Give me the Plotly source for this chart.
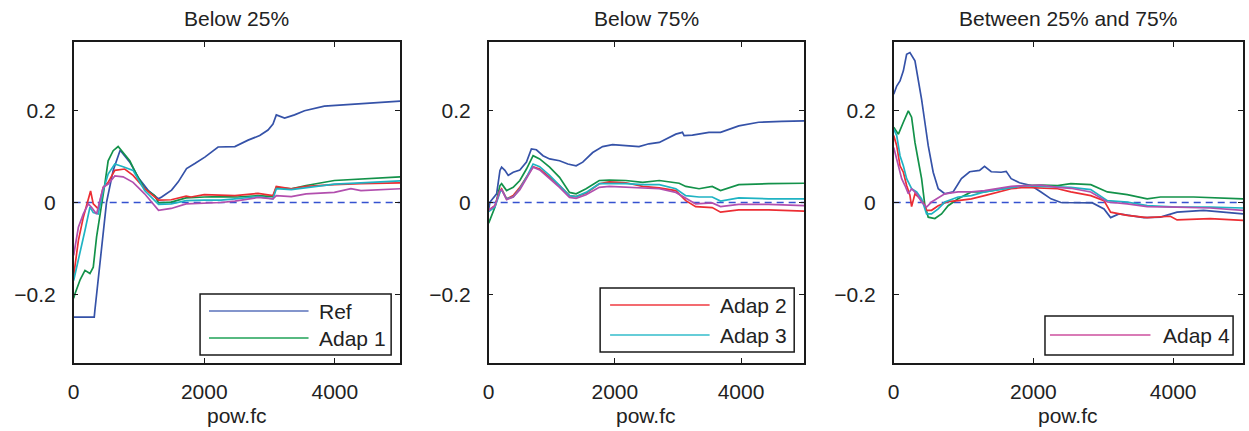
import plotly.graph_objects as go

# ---------------- data ----------------
TITLES = ["Below 25%", "Below 75%", "Between 25% and 75%"]
X_TICKS = [0, 2000, 4000]
X_TICK_LABELS = ["0", "2000", "4000"]
Y_TICKS = [-0.2, 0, 0.2]
Y_TICK_LABELS = ["\u22120.2", "0", "0.2"]
X_LABEL = "pow.fc"
SERIES_NAMES = ["Ref", "Adap 1", "Adap 2", "Adap 3", "Adap 4"]

# Panel 1 : Below 25%
P1_REF_X = [0, 315, 325, 432, 503, 605, 712, 860, 1000, 1150, 1300, 1348, 1500, 1602, 1729, 1856, 2009, 2212, 2469, 2672, 2850, 2977, 3053, 3104, 3231, 3383, 3536, 3840, 4196, 4603, 5000]
P1_REF_Y = [-0.25, -0.25, -0.235, -0.094, 0.0, 0.070, 0.114, 0.088, 0.052, 0.025, 0.008, 0.012, 0.027, 0.045, 0.074, 0.085, 0.099, 0.121, 0.122, 0.136, 0.146, 0.158, 0.171, 0.191, 0.184, 0.191, 0.200, 0.210, 0.213, 0.218, 0.221]
P1_A1_X = [0, 20, 100, 173, 249, 300, 351, 427, 478, 528, 605, 681, 732, 859, 960, 1087, 1240, 1300, 1494, 1646, 1722, 2001, 2255, 2510, 2824, 3053, 3104, 3333, 3561, 3993, 4400, 5000]
P1_A1_Y = [-0.209, -0.199, -0.168, -0.148, -0.155, -0.141, -0.075, -0.010, 0.041, 0.091, 0.113, 0.122, 0.113, 0.091, 0.062, 0.030, 0.015, -0.001, 0.001, 0.006, 0.010, 0.012, 0.013, 0.012, 0.015, 0.013, 0.033, 0.030, 0.037, 0.048, 0.051, 0.056]
P1_A2_X = [0, 72, 148, 224, 259, 300, 376, 452, 528, 630, 782, 910, 1087, 1300, 1494, 1722, 1798, 2001, 2255, 2469, 2824, 3053, 3104, 3333, 3561, 3993, 4400, 5000]
P1_A2_Y = [-0.160, -0.083, -0.032, 0.004, 0.025, -0.003, -0.014, 0.033, 0.044, 0.070, 0.073, 0.059, 0.030, 0.005, 0.006, 0.014, 0.012, 0.017, 0.016, 0.015, 0.020, 0.015, 0.035, 0.030, 0.035, 0.039, 0.041, 0.043]
P1_A3_X = [0, 96, 173, 249, 300, 376, 452, 528, 630, 757, 910, 1087, 1300, 1494, 1722, 2001, 2255, 2469, 2824, 3053, 3104, 3333, 3561, 3993, 4400, 5000]
P1_A3_Y = [-0.170, -0.112, -0.061, -0.010, -0.022, -0.025, 0.026, 0.062, 0.084, 0.078, 0.070, 0.026, -0.004, -0.003, 0.004, 0.005, 0.005, 0.008, 0.013, 0.008, 0.030, 0.028, 0.032, 0.040, 0.043, 0.047]
P1_A4_X = [0, 72, 148, 224, 270, 351, 452, 528, 630, 757, 910, 1087, 1300, 1494, 1722, 2001, 2255, 2469, 2824, 3053, 3104, 3333, 3561, 3993, 4247, 4400, 5000]
P1_A4_Y = [-0.115, -0.054, -0.025, -0.003, -0.010, -0.025, 0.033, 0.040, 0.058, 0.056, 0.044, 0.019, -0.017, -0.013, -0.003, -0.002, 0.000, 0.003, 0.011, 0.008, 0.015, 0.013, 0.019, 0.022, 0.030, 0.026, 0.030]

# Panel 2 : Below 75%
P2_REF_X = [0, 21, 126, 179, 205, 257, 310, 389, 494, 599, 677, 756, 861, 966, 1123, 1255, 1386, 1491, 1649, 1806, 1964, 2174, 2383, 2540, 2704, 2966, 3071, 3097, 3229, 3491, 3675, 3964, 4279, 4646, 5000]
P2_REF_Y = [-0.015, 0.001, 0.019, 0.070, 0.077, 0.070, 0.059, 0.066, 0.071, 0.088, 0.117, 0.115, 0.102, 0.095, 0.091, 0.084, 0.080, 0.088, 0.109, 0.122, 0.126, 0.124, 0.122, 0.128, 0.131, 0.149, 0.153, 0.146, 0.147, 0.153, 0.153, 0.167, 0.175, 0.177, 0.178]
P2_A1_X = [0, 100, 179, 205, 284, 389, 494, 599, 704, 808, 966, 1123, 1281, 1386, 1544, 1753, 1911, 2174, 2441, 2704, 3019, 3124, 3334, 3543, 3675, 3964, 4436, 5000]
P2_A1_Y = [-0.045, -0.010, 0.037, 0.041, 0.026, 0.033, 0.048, 0.073, 0.102, 0.095, 0.077, 0.055, 0.022, 0.019, 0.030, 0.048, 0.049, 0.048, 0.044, 0.048, 0.042, 0.035, 0.030, 0.035, 0.026, 0.039, 0.041, 0.042]
P2_A2_X = [0, 100, 179, 205, 284, 389, 494, 599, 704, 808, 966, 1123, 1281, 1386, 1544, 1753, 1911, 2174, 2441, 2704, 2966, 3124, 3281, 3543, 3675, 3964, 4436, 5000]
P2_A2_Y = [-0.017, -0.007, 0.026, 0.030, 0.008, 0.015, 0.033, 0.055, 0.078, 0.073, 0.055, 0.037, 0.015, 0.013, 0.020, 0.041, 0.045, 0.043, 0.035, 0.032, 0.026, 0.004, -0.009, -0.011, -0.021, -0.016, -0.016, -0.019]
P2_A3_X = [0, 100, 179, 205, 284, 389, 494, 599, 704, 808, 966, 1123, 1281, 1386, 1544, 1753, 1911, 2174, 2441, 2704, 2966, 3124, 3334, 3543, 3675, 3964, 4436, 5000]
P2_A3_Y = [-0.020, -0.010, 0.022, 0.028, 0.008, 0.012, 0.030, 0.055, 0.084, 0.078, 0.059, 0.037, 0.015, 0.013, 0.022, 0.041, 0.041, 0.041, 0.039, 0.039, 0.030, 0.015, 0.012, 0.012, 0.003, 0.010, 0.008, 0.008]
P2_A4_X = [0, 100, 179, 205, 284, 389, 494, 599, 704, 808, 966, 1123, 1281, 1386, 1544, 1753, 1911, 2174, 2441, 2704, 2966, 3097, 3281, 3543, 3675, 3964, 4436, 5000]
P2_A4_Y = [-0.017, -0.007, 0.026, 0.028, 0.006, 0.012, 0.028, 0.052, 0.077, 0.071, 0.053, 0.033, 0.011, 0.009, 0.017, 0.033, 0.035, 0.033, 0.032, 0.030, 0.022, 0.012, -0.003, -0.001, -0.009, -0.004, -0.004, -0.007]

# Panel 3 : Between 25% and 75%
P3_REF_X = [0, 43, 90, 138, 185, 232, 304, 352, 399, 446, 494, 565, 637, 731, 850, 969, 1087, 1229, 1300, 1396, 1538, 1610, 1681, 1800, 1966, 2108, 2251, 2393, 2631, 2845, 3010, 3105, 3224, 3580, 3818, 4056, 4435, 4768, 5000]
P3_REF_Y = [0.236, 0.254, 0.265, 0.287, 0.323, 0.327, 0.309, 0.269, 0.225, 0.175, 0.124, 0.066, 0.030, 0.019, 0.023, 0.052, 0.067, 0.070, 0.079, 0.067, 0.066, 0.068, 0.052, 0.043, 0.037, 0.023, 0.008, 0.000, -0.001, -0.001, -0.014, -0.033, -0.025, -0.033, -0.032, -0.021, -0.017, -0.021, -0.025]
P3_A1_X = [0, 67, 138, 209, 256, 304, 352, 399, 446, 494, 589, 684, 779, 921, 1111, 1300, 1491, 1681, 1871, 2108, 2346, 2535, 2821, 3058, 3343, 3628, 3818, 4293, 5000]
P3_A1_Y = [0.164, 0.149, 0.175, 0.200, 0.186, 0.131, 0.091, 0.052, -0.006, -0.032, -0.035, -0.025, -0.007, 0.008, 0.023, 0.023, 0.028, 0.033, 0.037, 0.038, 0.037, 0.041, 0.039, 0.023, 0.017, 0.008, 0.012, 0.012, 0.008]
P3_A2_X = [0, 43, 90, 138, 185, 232, 256, 304, 352, 422, 470, 541, 637, 779, 921, 1111, 1300, 1491, 1681, 1871, 2108, 2346, 2535, 2821, 3010, 3105, 3343, 3628, 3960, 4056, 4530, 5000]
P3_A2_Y = [0.146, 0.124, 0.080, 0.066, 0.037, 0.016, -0.009, 0.019, 0.012, 0.001, -0.017, -0.017, -0.007, 0.002, 0.004, 0.008, 0.015, 0.023, 0.030, 0.033, 0.031, 0.030, 0.023, 0.015, 0.004, -0.021, -0.028, -0.033, -0.030, -0.038, -0.035, -0.039]
P3_A3_X = [0, 43, 90, 138, 185, 256, 328, 399, 470, 541, 637, 731, 921, 1111, 1300, 1491, 1681, 1871, 2108, 2346, 2535, 2821, 3058, 3343, 3628, 4056, 4530, 5000]
P3_A3_Y = [0.160, 0.146, 0.102, 0.080, 0.052, 0.030, 0.023, 0.008, -0.025, -0.025, -0.014, 0.001, 0.012, 0.015, 0.023, 0.028, 0.033, 0.037, 0.035, 0.033, 0.033, 0.028, 0.004, 0.001, -0.007, -0.010, -0.010, -0.012]
P3_A4_X = [0, 43, 114, 161, 209, 256, 328, 399, 470, 541, 637, 731, 921, 1111, 1300, 1491, 1681, 1871, 2108, 2346, 2535, 2821, 3058, 3343, 3628, 4056, 4530, 5000]
P3_A4_Y = [0.120, 0.095, 0.052, 0.037, 0.019, 0.030, 0.019, 0.001, -0.010, 0.001, 0.010, 0.019, 0.023, 0.023, 0.026, 0.031, 0.035, 0.037, 0.038, 0.033, 0.031, 0.023, 0.001, -0.003, -0.009, -0.010, -0.012, -0.017]

PANELS = [
    [(P1_REF_X, P1_REF_Y), (P1_A1_X, P1_A1_Y), (P1_A2_X, P1_A2_Y), (P1_A3_X, P1_A3_Y), (P1_A4_X, P1_A4_Y)],
    [(P2_REF_X, P2_REF_Y), (P2_A1_X, P2_A1_Y), (P2_A2_X, P2_A2_Y), (P2_A3_X, P2_A3_Y), (P2_A4_X, P2_A4_Y)],
    [(P3_REF_X, P3_REF_Y), (P3_A1_X, P3_A1_Y), (P3_A2_X, P3_A2_Y), (P3_A3_X, P3_A3_Y), (P3_A4_X, P3_A4_Y)],
]
# which series appear in each panel's legend box
LEGEND_ENTRIES = [[0, 1], [2, 3], [4]]

# ---------------- styling ----------------
W, H = 1249, 431
COLORS = ["#3552a8", "#13924a", "#ec2d33", "#1fb3c3", "#b24fae"]
LEG_COLORS = ["#5a72bb", "#1fa257", "#ef3a40", "#33bccb", "#cc4f9e"]
FONT = "Liberation Sans, Arial, Helvetica, sans-serif"
FS = 21
TXT = "#222222"

# pixel geometry of the three plot boxes (left, right) and vertical extent
BOX_X = [(68, 396), (485, 802), (892, 1243)]
BOX_TOP, BOX_BOT = 42, 363
# legend boxes: (x0, y0, x1, y1, line x0, line x1, text x, [line y...])
LEG_BOX = [
    (195, 294, 387, 355, 204, 304, 312, [311, 338]),
    (597, 288, 792, 352, 607, 707, 715, [305, 335]),
    (1044, 316, 1233, 355, 1049, 1150, 1161, [335]),
]


def px(x):
    return x / W


def py(y):
    return 1 - y / H


fig = go.Figure()
shapes = []
annotations = []

for i, series in enumerate(PANELS):
    n = "" if i == 0 else str(i + 1)
    xa, ya = "x" + n, "y" + n
    for j, (xs, ys) in enumerate(series):
        fig.add_trace(go.Scatter(
            x=xs, y=ys, mode="lines", name=SERIES_NAMES[j],
            line=dict(color=COLORS[j], width=1.7),
            xaxis=xa, yaxis=ya, showlegend=False, hoverinfo="skip"))

    x0, x1 = BOX_X[i]
    axis_common = dict(
        showgrid=False, zeroline=False, showline=True, linecolor="#1a1a1a",
        linewidth=1.6, mirror="ticks", ticks="inside", ticklen=5, tickwidth=1,
        tickcolor="#1a1a1a", tickfont=dict(family=FONT, size=FS, color=TXT),
    )
    fig.update_layout(**{
        "xaxis" + n: dict(axis_common, domain=[px(x0), px(x1)], range=[0, 5000],
                          tickvals=X_TICKS, ticktext=X_TICK_LABELS, anchor=ya,
                          ticklabelstandoff=9),
        "yaxis" + n: dict(axis_common, domain=[py(BOX_BOT), py(BOX_TOP)],
                          range=[-0.35, 0.35], tickvals=Y_TICKS,
                          ticktext=Y_TICK_LABELS, anchor=xa,
                          ticklabelstandoff=12),
    })

    # dashed zero line
    shapes.append(dict(type="line", xref=xa + " domain", yref=ya, x0=0, x1=1,
                       y0=0, y1=0, line=dict(color="#3552d0", width=1.3, dash="7px,5px"),
                       layer="below"))

    # title and x label
    cx = (x0 + x1) / 2
    annotations.append(dict(text=TITLES[i], x=px(cx), y=py(18), xref="paper", yref="paper",
                            showarrow=False, xanchor="center", yanchor="middle",
                            font=dict(family=FONT, size=FS, color=TXT)))
    annotations.append(dict(text=X_LABEL, x=px(cx), y=py(415), xref="paper", yref="paper",
                            showarrow=False, xanchor="center", yanchor="middle",
                            font=dict(family=FONT, size=FS, color=TXT)))

    # legend box
    bx0, by0, bx1, by1, lx0, lx1, tx, lys = LEG_BOX[i]
    shapes.append(dict(type="rect", xref="paper", yref="paper", x0=px(bx0), x1=px(bx1),
                       y0=py(by1), y1=py(by0), line=dict(color="#1a1a1a", width=1.5),
                       fillcolor="white", layer="above"))
    for k, j in enumerate(LEGEND_ENTRIES[i]):
        ly = lys[k]
        shapes.append(dict(type="line", xref="paper", yref="paper", x0=px(lx0), x1=px(lx1),
                           y0=py(ly), y1=py(ly), line=dict(color=LEG_COLORS[j], width=1.3),
                           layer="above"))
        annotations.append(dict(text=SERIES_NAMES[j], x=px(tx), y=py(ly), xref="paper",
                                yref="paper", showarrow=False, xanchor="left",
                                yanchor="middle", font=dict(family=FONT, size=FS, color=TXT)))

fig.update_layout(
    width=W, height=H, margin=dict(l=0, r=0, t=0, b=0),
    paper_bgcolor="white", plot_bgcolor="white",
    shapes=shapes, annotations=annotations, showlegend=False,
)

# remove the browser's default page margin so the figure sits at the window origin
fig.write_html("out.html",
               config={"displayModeBar": False},
               post_script="document.body.style.margin='0';"
                           "document.body.style.overflow='hidden';")
